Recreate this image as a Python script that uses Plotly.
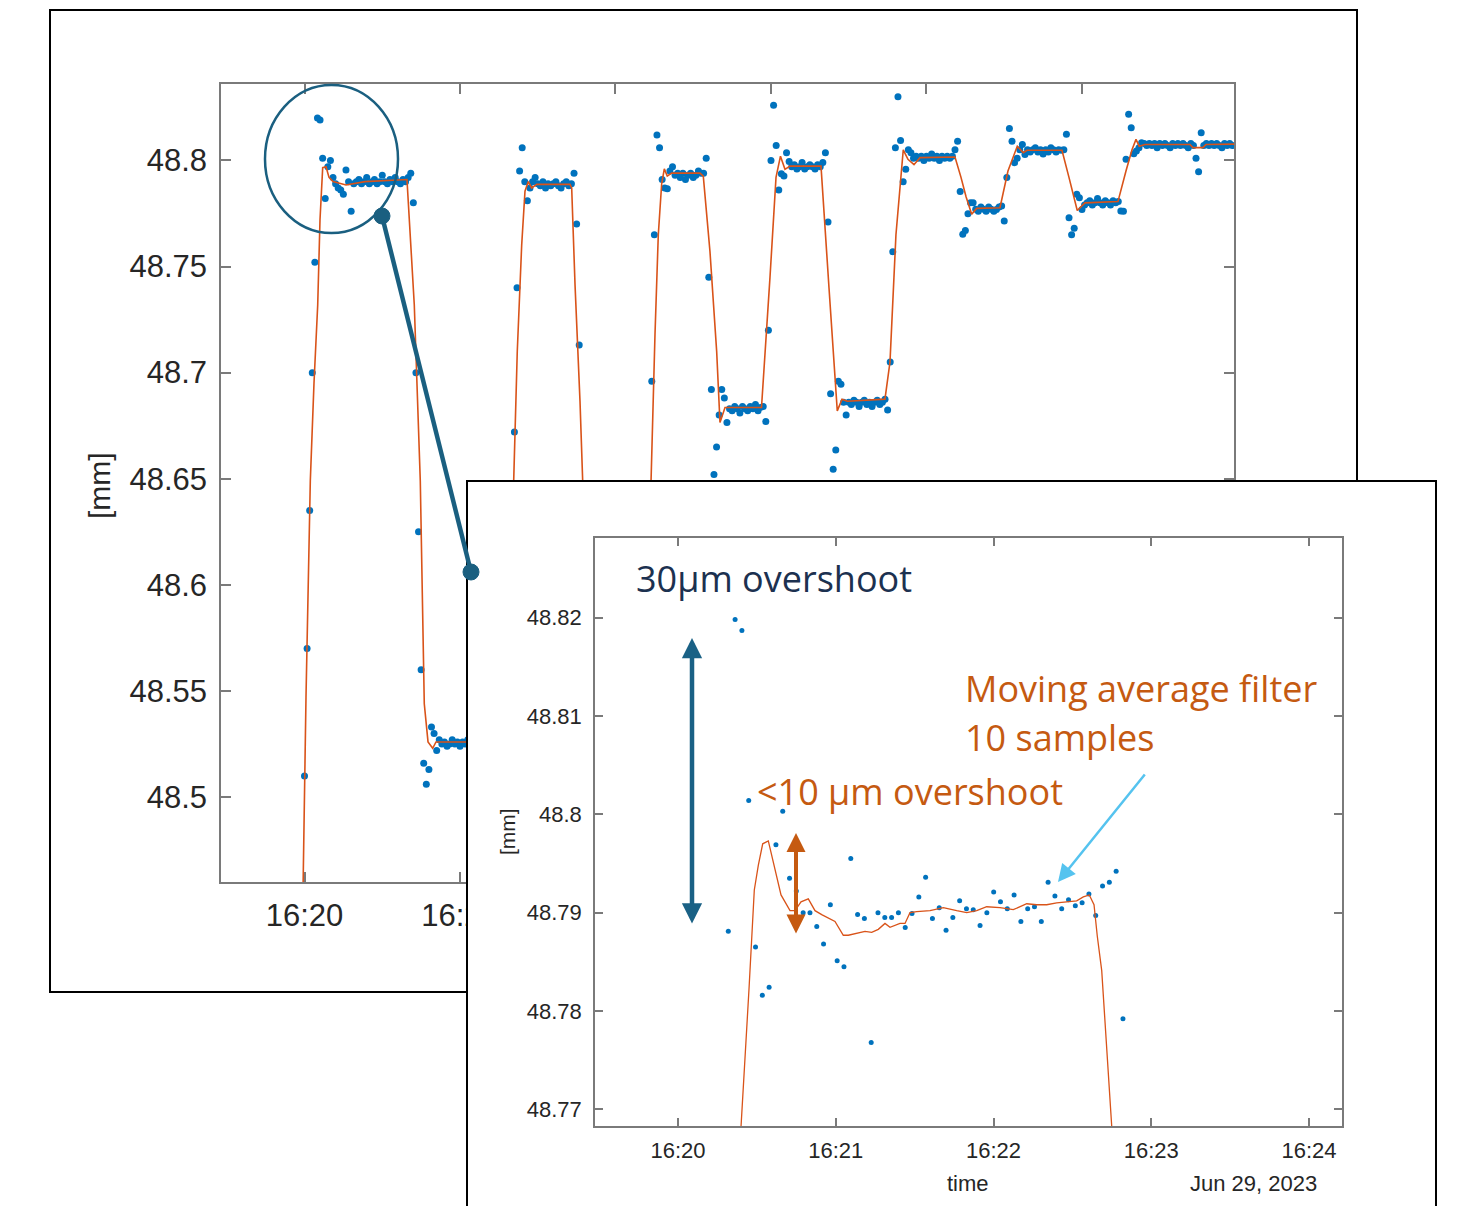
import numpy as np
import pandas as pd
import plotly.graph_objects as go

# page offset of the plot div (browser body margin) and figure size
OFF = 8
W, H = 1469 - OFF, 1206 - OFF

# ---------------- main chart data (raw samples every 5 s) ----------------
main_start = "2023-06-29 16:19:45"
main_step_s = 5
main_values = [
    48.330, 48.390, 48.452, 48.510, 48.570, 48.635, 48.700, 48.752, 48.820, 48.819,
    48.801, 48.782, 48.797, 48.800, 48.792, 48.789, 48.787, 48.786, 48.784, 48.7955,
    48.790, 48.776, 48.789, 48.790, 48.791, 48.789, 48.790, 48.792, 48.789, 48.790,
    48.791, 48.789, 48.790, 48.793, 48.790, 48.789, 48.791, 48.790, 48.792, 48.790,
    48.789, 48.791, 48.790, 48.792, 48.794, 48.780, 48.700, 48.625, 48.560, 48.516,
    48.506, 48.513, 48.533, 48.530, 48.522, 48.527, 48.525, 48.526, 48.524, 48.525,
    48.527, 48.525, 48.526, 48.524, 48.526, 48.525, 48.527, 48.524, 48.525, 48.526,
    48.525, 48.524, 48.526, 48.525, 48.527, 48.525, 48.524, 48.526, 48.525, 48.526,
    48.524, 48.525, 48.540, 48.600, 48.672, 48.740, 48.795, 48.806, 48.790, 48.781,
    48.787, 48.790, 48.792, 48.789, 48.788, 48.790, 48.787, 48.789, 48.788, 48.789,
    48.790, 48.788, 48.787, 48.789, 48.790, 48.788, 48.789, 48.794, 48.770, 48.713,
    48.645, 48.570, 48.530, 48.524, 48.526, 48.525, 48.527, 48.524, 48.525, 48.526,
    48.525, 48.524, 48.526, 48.525, 48.527, 48.525, 48.524, 48.526, 48.525, 48.524,
    48.526, 48.525, 48.526, 48.524, 48.525, 48.550, 48.620, 48.696, 48.765, 48.812,
    48.806, 48.791, 48.787, 48.7867, 48.795, 48.797, 48.793, 48.794, 48.792, 48.794,
    48.791, 48.793, 48.794, 48.792, 48.793, 48.795, 48.794, 48.794, 48.801, 48.745,
    48.692, 48.652, 48.665, 48.680, 48.692, 48.688, 48.6765, 48.683, 48.682, 48.684,
    48.683, 48.681, 48.684, 48.683, 48.682, 48.684, 48.683, 48.685, 48.682, 48.6836,
    48.684, 48.677, 48.720, 48.800, 48.826, 48.807, 48.786, 48.7937, 48.7926, 48.8036,
    48.7995, 48.797, 48.798, 48.796, 48.797, 48.799, 48.796, 48.797, 48.798, 48.797,
    48.796, 48.798, 48.797, 48.799, 48.8036, 48.771, 48.690, 48.6545, 48.6636, 48.696,
    48.6945, 48.686, 48.680, 48.686, 48.685, 48.687, 48.686, 48.684, 48.686, 48.687,
    48.685, 48.686, 48.684, 48.686, 48.687, 48.685, 48.686, 48.6875, 48.6824, 48.705,
    48.757, 48.806, 48.830, 48.8094, 48.790, 48.7958, 48.805, 48.8036, 48.801, 48.802,
    48.801, 48.802, 48.800, 48.802, 48.801, 48.803, 48.801, 48.802, 48.800, 48.802,
    48.801, 48.802, 48.801, 48.802, 48.805, 48.809, 48.7853, 48.7652, 48.767, 48.7749,
    48.780, 48.780, 48.777, 48.776, 48.778, 48.777, 48.776, 48.778, 48.777, 48.776,
    48.7769, 48.778, 48.7785, 48.7714, 48.7919, 48.815, 48.809, 48.7989, 48.801, 48.805,
    48.8075, 48.8028, 48.805, 48.804, 48.805, 48.806, 48.804, 48.805, 48.803, 48.805,
    48.804, 48.806, 48.805, 48.804, 48.805, 48.8048, 48.805, 48.8123, 48.773, 48.765,
    48.768, 48.784, 48.7824, 48.7769, 48.779, 48.780, 48.781, 48.779, 48.780, 48.782,
    48.780, 48.779, 48.781, 48.780, 48.779, 48.781, 48.780, 48.7806, 48.7762, 48.776,
    48.8005, 48.8217, 48.8154, 48.8031, 48.8044, 48.806, 48.8083, 48.808, 48.807, 48.808,
    48.807, 48.808, 48.806, 48.808, 48.807, 48.808, 48.807, 48.806, 48.808, 48.807,
    48.808, 48.807, 48.808, 48.807, 48.806, 48.808, 48.807, 48.801, 48.7947, 48.813,
    48.807, 48.808, 48.807, 48.808, 48.807, 48.808, 48.807, 48.806, 48.808, 48.807,
    48.808, 48.807,
]

# moving-average filter line of the main chart (seconds after 16:20:00, value)
main_line_sec = [
    -3.9, 2.9, 11.2, 18.3, 25.5, 29.9, 35.1, 41.5, 47.3, 55.0, 80.1, 116.7, 197.7,
    211.8, 223.4, 231.1, 238.3, 247.3, 253.7, 319.3, 389.5, 403.6, 410.5, 419.0,
    425.4, 431.8, 438.3, 448.0, 512.2, 515.5, 521.9, 531.5, 536.7, 543.1, 550.8,
    558.5, 566.2, 655.0, 667.9, 676.2, 682.6, 689.1, 694.2, 699.9, 708.4, 763.0,
    769.4, 782.3, 795.2, 801.6, 811.3, 881.7, 898.1, 909.7, 918.3, 927.0, 936.7,
    996.5, 1011.9, 1027.9, 1037.0, 1047.2, 1119.9, 1129.6, 1141.1, 1155.2, 1164.3,
    1175.9, 1187.5, 1255.0, 1266.6, 1276.2, 1287.2, 1296.8, 1341.8, 1357.2, 1375.2,
    1386.8, 1393.9, 1461.4, 1474.9, 1490.9, 1505.8, 1569.4, 1584.9, 1596.5, 1604.2,
    1610.5, 1621.5, 1708.4, 1714.1, 1733.4, 1739.2, 1797.1,
]
main_line_val = [
    48.440, 48.547, 48.649, 48.695, 48.732, 48.772, 48.7966, 48.797, 48.792, 48.790,
    48.7884, 48.790, 48.791, 48.732, 48.649, 48.544, 48.526, 48.523, 48.526, 48.526,
    48.526, 48.649, 48.710, 48.760, 48.7855, 48.790, 48.787, 48.7887, 48.7887, 48.787,
    48.7416, 48.6867, 48.649, 48.570, 48.527, 48.524, 48.526, 48.526, 48.649, 48.718,
    48.765, 48.789, 48.796, 48.7926, 48.794, 48.794, 48.7926, 48.757, 48.710, 48.6765,
    48.6836, 48.6836, 48.745, 48.792, 48.802, 48.7958, 48.7973, 48.7973, 48.740,
    48.682, 48.6875, 48.6865, 48.6875, 48.705, 48.765, 48.805, 48.8005, 48.798,
    48.8013, 48.8016, 48.792, 48.783, 48.7746, 48.7774, 48.7777, 48.795, 48.8067,
    48.8036, 48.8048, 48.8048, 48.792, 48.7764, 48.780, 48.7806, 48.795, 48.805,
    48.8099, 48.8067, 48.8075, 48.8075, 48.806, 48.806, 48.8075, 48.8077,
]

main_yticks = [48.5, 48.55, 48.6, 48.65, 48.7, 48.75, 48.8]
main_yticktext = ["48.5", "48.55", "48.6", "48.65", "48.7", "48.75", "48.8"]

# ---------------- inset (zoom on first plateau) ----------------
inset_start = "2023-06-29 16:20:19.13"
inset_step_s = 2.588
inset_values = [
    48.7881, 48.8198, 48.8187, 48.8014, 48.7865, 48.7816, 48.7824, 48.7969, 48.8003, 48.7935,
    48.7922, 48.7900, 48.7900, 48.7886, 48.7868, 48.7908, 48.7851, 48.7845, 48.7955, 48.7898,
    48.7894, 48.7768, 48.7900, 48.7895, 48.7895, 48.7900, 48.7885, 48.7899, 48.7916, 48.7936,
    48.7894, 48.7905, 48.7882, 48.7895, 48.7912, 48.7904, 48.7903, 48.7887, 48.7900, 48.7921,
    48.7911, 48.7904, 48.7918, 48.7891, 48.7904, 48.7906, 48.7891, 48.7931, 48.7917, 48.7904,
    48.7913, 48.7907, 48.7910, 48.7919, 48.7897, 48.7927, 48.7931, 48.7942, 48.7792,
]
inset_line_sec = [
    23.58, 23.96, 27.0, 29.02, 30.54, 32.22, 34.35, 36.89, 39.18, 42.60, 44.50, 46.78,
    49.56, 52.11, 54.66, 59.71, 62.87, 64.77, 68.58, 71.13, 73.67, 76.18, 78.73, 80.63,
    84.44, 86.34, 88.24, 90.79, 95.85, 100.91, 106.00, 109.81, 113.61, 117.41, 122.47,
    127.53, 132.63, 136.43, 140.23, 144.04, 147.84, 151.64, 154.16, 156.44, 158.23,
    159.48, 161.16, 163.06, 164.96, 165.45,
]
inset_line_val = [
    48.7660, 48.7682, 48.7822, 48.7923, 48.7948, 48.7970, 48.7973, 48.7944, 48.7918,
    48.7902, 48.7902, 48.7911, 48.7914, 48.7902, 48.7898, 48.7891, 48.7877, 48.7877,
    48.7879, 48.7881, 48.7880, 48.7883, 48.7889, 48.7885, 48.7889, 48.7889, 48.7900,
    48.7901, 48.7902, 48.7905, 48.7902, 48.7900, 48.7902, 48.7906, 48.7905, 48.7903,
    48.7909, 48.7908, 48.7908, 48.7910, 48.7911, 48.7912, 48.7916, 48.7918, 48.7908,
    48.7876, 48.7841, 48.7765, 48.7683, 48.7650,
]
inset_yticks = [48.77, 48.78, 48.79, 48.8, 48.81, 48.82]
inset_yticktext = ["48.77", "48.78", "48.79", "48.8", "48.81", "48.82"]

# ---------------- build times ----------------
ref0 = pd.Timestamp("2023-06-29 16:20:00")
main_t = pd.Timestamp(main_start) + pd.to_timedelta(np.arange(len(main_values)) * main_step_s, unit="s")
main_line_t = ref0 + pd.to_timedelta(main_line_sec, unit="s")
inset_t = pd.Timestamp(inset_start) + pd.to_timedelta(np.arange(len(inset_values)) * inset_step_s, unit="s")
inset_line_t = ref0 + pd.to_timedelta(inset_line_sec, unit="s")


def fx(px):
    return (px - OFF) / W


def fy(py):
    return 1 - (py - OFF) / H


BLUE = "#0072BD"
ORANGE = "#D95319"
TEAL = "#1a5f80"
TXT_OR = "#c55a11"
AXC = "#7a7a7a"
TICKFONT = "Liberation Sans, Arial, sans-serif"

fig = go.Figure()
fig.add_trace(go.Scatter(x=main_t, y=main_values, mode="markers",
                         marker=dict(size=7, color=BLUE), xaxis="x", yaxis="y", showlegend=False))
fig.add_trace(go.Scatter(x=main_line_t, y=main_line_val, mode="lines",
                         line=dict(color=ORANGE, width=1.6), xaxis="x", yaxis="y", showlegend=False))
fig.add_trace(go.Scatter(x=[], y=[], xaxis="x2", yaxis="y2", showlegend=False))
fig.add_trace(go.Scatter(x=inset_t, y=inset_values, mode="markers",
                         marker=dict(size=5, color=BLUE), xaxis="x3", yaxis="y3", showlegend=False))
fig.add_trace(go.Scatter(x=inset_line_t, y=inset_line_val, mode="lines",
                         line=dict(color=ORANGE, width=1.3), xaxis="x3", yaxis="y3", showlegend=False))

common_ax = dict(showgrid=False, zeroline=False, showline=True, linecolor=AXC, linewidth=1.5,
                 mirror="allticks", ticks="inside", tickcolor=AXC, tickwidth=1.5)

fig.update_layout(
    width=W, height=H, margin=dict(l=0, r=0, t=0, b=0),
    paper_bgcolor="white", plot_bgcolor="white", showlegend=False,
    xaxis=dict(domain=[fx(221), fx(1234)], anchor="y", type="date",
               range=["2023-06-29 16:17:18.9", "2023-06-29 16:49:53.3"],
               tick0="2023-06-29 16:20:00", dtick=300000, tickformat="%H:%M",
               ticklen=10, ticklabelstandoff=5,
               tickfont=dict(family=TICKFONT, size=31, color="#262626"), **common_ax),
    yaxis=dict(domain=[fy(882), fy(84)], anchor="x", range=[48.46, 48.836],
               tickvals=main_yticks, ticktext=main_yticktext, ticklen=10, ticklabelstandoff=6,
               tickfont=dict(family=TICKFONT, size=31, color="#262626"), **common_ax),
    xaxis2=dict(domain=[fx(468), fx(1435)], anchor="y2", side="top", range=[0, 1],
                showline=True, linecolor="black", linewidth=2, showgrid=False, zeroline=False,
                showticklabels=False, ticks=""),
    yaxis2=dict(domain=[0, fy(482)], anchor="x2", range=[0, 1], mirror=True,
                showline=True, linecolor="black", linewidth=2, showgrid=False, zeroline=False,
                showticklabels=False, ticks=""),
    xaxis3=dict(domain=[fx(595), fx(1342)], anchor="y3", type="date",
                range=["2023-06-29 16:19:28.43", "2023-06-29 16:24:12.55"],
                tick0="2023-06-29 16:20:00", dtick=60000, tickformat="%H:%M",
                ticklen=8, ticklabelstandoff=4,
                tickfont=dict(family=TICKFONT, size=22, color="#262626"), **common_ax),
    yaxis3=dict(domain=[fy(1126), fy(538)], anchor="x3", range=[48.7683, 48.8281],
                tickvals=inset_yticks, ticktext=inset_yticktext, ticklen=8, ticklabelstandoff=7,
                tickfont=dict(family=TICKFONT, size=22, color="#262626"), **common_ax),
)

shapes = [
    dict(type="rect", xref="paper", yref="paper", x0=fx(50), x1=fx(1357), y0=fy(992), y1=fy(10),
         line=dict(color="black", width=2), layer="below"),
    dict(type="circle", xref="paper", yref="paper", x0=fx(265), x1=fx(398), y0=fy(233), y1=fy(85),
         line=dict(color=TEAL, width=2.5), layer="above"),
    dict(type="line", xref="paper", yref="paper", x0=fx(382), y0=fy(216), x1=fx(471), y1=fy(572),
         line=dict(color=TEAL, width=4.5), layer="above"),
    dict(type="circle", xref="paper", yref="paper", x0=fx(374), x1=fx(390), y0=fy(224), y1=fy(208),
         line=dict(color=TEAL, width=1), fillcolor=TEAL, layer="above"),
    dict(type="circle", xref="paper", yref="paper", x0=fx(463), x1=fx(479), y0=fy(580), y1=fy(564),
         line=dict(color=TEAL, width=1), fillcolor=TEAL, layer="above"),
]
fig.update_layout(shapes=shapes)

ANN_FONT = "Open Sans, Noto Sans, sans-serif"


def label(text, px, py, size, color="#262626", family=TICKFONT, angle=0, xanchor="center"):
    return dict(text=text, xref="paper", yref="paper", x=fx(px), y=fy(py), showarrow=False,
                xanchor=xanchor, yanchor="middle", textangle=angle,
                font=dict(family=family, size=size, color=color))


annotations = [
    label("[mm]", 100, 485, 30, angle=-90),
    label("[mm]", 507, 832, 21, angle=-90),
    label("time", 968, 1183, 22),
    label("Jun 29, 2023", 1253, 1183, 22),
    label("30µm overshoot", 634, 578, 36, color="#1c3150", family=ANN_FONT, xanchor="left"),
    label("&lt;10 µm overshoot", 755, 791, 36, color=TXT_OR, family=ANN_FONT, xanchor="left"),
    label("Moving average filter", 963, 689, 36, color=TXT_OR, family=ANN_FONT, xanchor="left"),
    label("10 samples", 963, 737, 36, color=TXT_OR, family=ANN_FONT, xanchor="left"),
    # arrows
    dict(text="", xref="paper", yref="paper", x=fx(692), y=fy(638), ax=0, ay=287,
         showarrow=True, arrowside="end+start", arrowhead=2, startarrowhead=2,
         arrowsize=0.9, startarrowsize=0.9, arrowwidth=4.5, arrowcolor="#1a6185",
         standoff=0, startstandoff=0),
    dict(text="", xref="paper", yref="paper", x=fx(796), y=fy(833), ax=0, ay=102,
         showarrow=True, arrowside="end+start", arrowhead=2, startarrowhead=2,
         arrowsize=0.95, startarrowsize=0.95, arrowwidth=4, arrowcolor=TXT_OR,
         standoff=0, startstandoff=0),
    dict(text="", xref="paper", yref="paper", x=fx(1058), y=fy(882), ax=88, ay=-109,
         showarrow=True, arrowhead=2, arrowsize=1.4, arrowwidth=2.5, arrowcolor="#55c3ef",
         standoff=0),
]
fig.update_layout(annotations=annotations)

fig.write_html("out.html")
